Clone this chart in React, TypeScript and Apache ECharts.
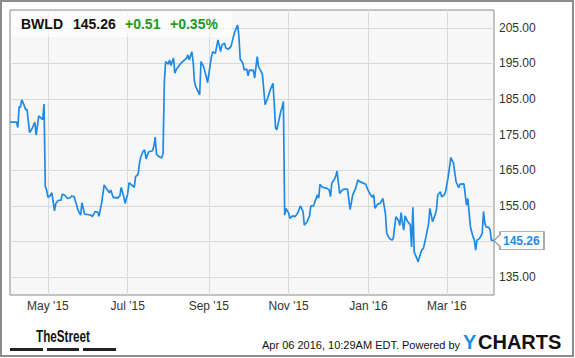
import React, { useEffect, useRef } from 'react';
import * as echarts from 'echarts';

const ticker = 'BWLD';
const lastPriceText = '145.26';
const changeText = '+0.51';
const changePctText = '+0.35%';
const stampText = 'Apr 06 2016, 10:29AM EDT. Powered by';

const dates = [
  '2015-04-02','2015-04-07','2015-04-08','2015-04-09','2015-04-10','2015-04-11','2015-04-12','2015-04-14','2015-04-15','2015-04-17',
  '2015-04-19','2015-04-21','2015-04-22','2015-04-24','2015-04-26','2015-04-27','2015-04-28','2015-04-29','2015-04-30','2015-05-01',
  '2015-05-03','2015-05-04','2015-05-06','2015-05-07','2015-05-09','2015-05-11','2015-05-12','2015-05-14','2015-05-16','2015-05-18',
  '2015-05-19','2015-05-21','2015-05-23','2015-05-24','2015-05-26','2015-05-27','2015-05-29','2015-05-31','2015-06-03','2015-06-04',
  '2015-06-06','2015-06-08','2015-06-09','2015-06-11','2015-06-13','2015-06-15','2015-06-17','2015-06-18','2015-06-20','2015-06-22',
  '2015-06-23','2015-06-25','2015-06-26','2015-06-28','2015-06-29','2015-07-01','2015-07-02','2015-07-04','2015-07-06','2015-07-07',
  '2015-07-09','2015-07-10','2015-07-11','2015-07-13','2015-07-14','2015-07-15','2015-07-17','2015-07-20','2015-07-21','2015-07-22',
  '2015-07-23','2015-07-25','2015-07-27','2015-07-28','2015-07-29','2015-07-30','2015-08-01','2015-08-02','2015-08-03','2015-08-05',
  '2015-08-06','2015-08-07','2015-08-10','2015-08-12','2015-08-15','2015-08-16','2015-08-17','2015-08-19','2015-08-20','2015-08-21',
  '2015-08-22','2015-08-25','2015-08-26','2015-08-28','2015-08-30','2015-08-31','2015-09-03','2015-09-04','2015-09-06','2015-09-08',
  '2015-09-10','2015-09-11','2015-09-13','2015-09-14','2015-09-16','2015-09-18','2015-09-20','2015-09-21','2015-09-23','2015-09-24',
  '2015-09-25','2015-09-27','2015-09-28','2015-09-30','2015-10-01','2015-10-02','2015-10-04','2015-10-05','2015-10-06','2015-10-08',
  '2015-10-09','2015-10-11','2015-10-12','2015-10-14','2015-10-16','2015-10-18','2015-10-20','2015-10-21','2015-10-22','2015-10-23',
  '2015-10-24','2015-10-26','2015-10-27','2015-10-28','2015-10-29','2015-10-30','2015-11-01','2015-11-02','2015-11-04','2015-11-06',
  '2015-11-08','2015-11-10','2015-11-12','2015-11-13','2015-11-15','2015-11-17','2015-11-18','2015-11-20','2015-11-23','2015-11-24',
  '2015-11-25','2015-11-27','2015-11-30','2015-12-02','2015-12-03','2015-12-04','2015-12-06','2015-12-07','2015-12-08','2015-12-10',
  '2015-12-12','2015-12-14','2015-12-16','2015-12-18','2015-12-20','2015-12-22','2015-12-24','2015-12-25','2015-12-28','2015-12-30',
  '2015-12-31','2016-01-02','2016-01-04','2016-01-05','2016-01-06','2016-01-08','2016-01-10','2016-01-12','2016-01-14','2016-01-15',
  '2016-01-17','2016-01-19','2016-01-20','2016-01-22','2016-01-24','2016-01-25','2016-01-26','2016-01-27','2016-01-28','2016-01-29',
  '2016-01-31','2016-02-02','2016-02-03','2016-02-04','2016-02-05','2016-02-07','2016-02-08','2016-02-09','2016-02-11','2016-02-12',
  '2016-02-14','2016-02-16','2016-02-17','2016-02-19','2016-02-21','2016-02-22','2016-02-23','2016-02-24','2016-02-25','2016-02-26',
  '2016-02-28','2016-02-29','2016-03-02','2016-03-04','2016-03-06','2016-03-08','2016-03-10','2016-03-11','2016-03-14','2016-03-16',
  '2016-03-17','2016-03-19','2016-03-21','2016-03-22','2016-03-23','2016-03-24','2016-03-26','2016-03-28','2016-03-29','2016-03-30',
  '2016-03-31','2016-04-02','2016-04-03','2016-04-04','2016-04-06'
];

const prices = [
  178.5,178.5,177.0,182.9,182.7,184.8,184.0,182.0,182.1,175.6,
  176.8,178.5,174.9,180.3,179.6,179.2,183.6,160.4,159.5,157.4,
  158.0,158.7,153.6,155.7,156.6,156.6,158.3,158.0,157.1,157.3,
  157.8,157.6,155.2,153.8,152.4,155.9,152.7,152.6,152.4,152.0,
  153.4,153.3,152.1,155.7,160.9,159.7,158.7,159.5,157.3,157.4,
  157.1,157.8,160.2,157.6,155.7,158.5,161.5,160.9,160.2,163.2,
  163.9,167.0,168.8,170.5,170.7,168.2,170.2,170.5,171.8,174.3,
  169.5,168.8,168.5,169.7,189.9,195.5,194.8,196.0,194.4,196.5,
  192.3,193.2,194.8,195.5,196.5,197.4,196.0,198.3,195.5,189.9,
  188.5,186.2,195.5,194.1,191.3,189.6,196.9,198.3,197.8,201.6,
  198.3,200.2,200.7,199.3,199.0,199.8,202.8,204.0,205.8,202.6,
  196.2,195.1,193.2,193.4,191.5,193.2,193.0,193.2,190.9,196.9,
  194.1,192.7,191.8,183.4,185.3,187.6,189.4,184.0,176.8,176.4,
  178.1,181.5,182.7,184.3,152.4,154.3,153.0,151.5,152.2,152.0,
  153.1,155.0,153.4,149.6,150.5,152.2,155.0,155.0,158.1,157.2,
  161.1,160.2,160.0,159.5,157.6,161.4,162.5,163.3,164.8,158.5,
  159.5,159.7,159.7,154.0,158.1,159.7,162.3,161.9,161.4,161.1,
  160.0,158.5,157.4,158.2,154.3,155.5,155.7,157.1,152.9,147.3,
  145.9,145.4,145.9,152.0,150.9,149.5,153.1,150.3,148.2,152.2,
  150.6,149.7,143.5,154.6,142.1,140.3,139.3,140.7,142.8,143.0,
  146.3,150.1,154.3,150.6,152.5,153.9,158.1,158.5,159.0,157.6,
  158.1,159.0,163.2,168.6,167.0,161.8,160.1,161.1,161.2,155.2,
  157.1,149.1,146.3,145.4,142.6,145.4,145.9,147.3,153.4,150.2,
  149.1,149.0,148.3,145.4,145.26
];

const xTickDates = ['2015-05-01', '2015-07-01', '2015-09-01', '2015-11-01', '2016-01-01', '2016-03-01'];
const yTickValues = [135, 145, 155, 165, 175, 185, 195, 205];
const monthNames = ['Jan', 'Feb', 'Mar', 'Apr', 'May', 'Jun', 'Jul', 'Aug', 'Sep', 'Oct', 'Nov', 'Dec'];
const axisStart = '2015-04-02';
const axisEnd = '2016-04-06';

function toTs(s: string): number {
  const [y, m, d] = s.split('-').map(Number);
  return new Date(y, m - 1, d).getTime();
}

const FONT = "'Liberation Sans', Arial, sans-serif";
const BLUE = '#1f8ae6';

export default function App() {
  const ref = useRef<HTMLDivElement>(null);
  useEffect(() => {
    const chart = echarts.init(ref.current!, null, { renderer: 'svg' });
    const data = dates.map((d, i) => [toTs(d), prices[i]]);
    const last = data[data.length - 1];
    const xTicks = xTickDates.map(toTs);
    chart.setOption({
      animation: false,
      backgroundColor: '#fff',
      grid: {
        left: 10, top: 10, right: 81, bottom: 63,
        show: true, backgroundColor: '#f7f7f7', borderColor: '#8a8a8a', borderWidth: 1,
        outerBoundsMode: 'none',
      },
      xAxis: {
        type: 'value',
        min: toTs(axisStart),
        max: toTs(axisEnd),
        axisLine: { show: false },
        axisTick: { show: false, customValues: xTicks },
        axisLabel: {
          customValues: xTicks,
          color: '#333', fontSize: 12, fontFamily: FONT, margin: 5,
          formatter: (v: number) => {
            const d = new Date(v);
            return monthNames[d.getMonth()] + " '" + String(d.getFullYear()).slice(2);
          },
        },
        splitLine: { show: true, lineStyle: { color: '#d9d9d9', width: 1 } },
      },
      yAxis: {
        type: 'value',
        position: 'right',
        min: 130,
        max: 210,
        axisLine: { show: false },
        axisTick: { show: false, customValues: yTickValues },
        axisLabel: {
          customValues: yTickValues,
          color: '#333', fontSize: 12, fontFamily: FONT, margin: 5,
          formatter: (v: number) => v.toFixed(2),
        },
        splitLine: { show: true, lineStyle: { color: '#d9d9d9', width: 1 } },
      },
      series: [
        {
          type: 'line',
          data,
          showSymbol: false,
          symbol: 'none',
          lineStyle: { color: BLUE, width: 1.7 },
          endLabel: {
            show: true,
            distance: 9,
            color: BLUE, fontWeight: 'bold', fontSize: 12, fontFamily: FONT,
            formatter: () => lastPriceText,
          },
          markPoint: {
            silent: true,
            symbol: 'path://M0,9L6,3L6,0L50,0L50,18L6,18L6,15Z',
            symbolSize: [50, 18],
            symbolOffset: [25, 0],
            itemStyle: { color: '#fff', borderColor: '#9a9a9a', borderWidth: 1 },
            label: { show: false },
            z: 1,
            data: [{ coord: last, value: last[1] }],
          },
        },
      ],
      graphic: [
        {
          type: 'rect', z: 100,
          shape: { x: 1, y: 1, width: 572, height: 355 },
          style: { fill: 'none', stroke: '#8c8c8c', lineWidth: 2 },
        },
        {
          type: 'rect', z: 100,
          shape: { x: 11, y: 11, width: 221, height: 26 },
          style: { fill: 'rgba(255,255,255,0.65)' },
        },
        { type: 'text', z: 101, x: 21, y: 24, style: { text: ticker, fill: '#111', font: `bold 14px ${FONT}`, verticalAlign: 'middle' } },
        { type: 'text', z: 101, x: 73, y: 24, style: { text: lastPriceText, fill: '#111', font: `bold 14px ${FONT}`, verticalAlign: 'middle' } },
        { type: 'text', z: 101, x: 125, y: 24, style: { text: changeText, fill: '#1a9a1a', font: `bold 14px ${FONT}`, verticalAlign: 'middle' } },
        { type: 'text', z: 101, x: 170, y: 24, style: { text: changePctText, fill: '#1a9a1a', font: `bold 14px ${FONT}`, verticalAlign: 'middle' } },
        {
          type: 'text', z: 101, x: 36, y: 336, scaleX: 0.73,
          style: { text: 'TheStreet', fill: '#111', font: `bold 16px ${FONT}`, verticalAlign: 'middle' },
        },
        { type: 'rect', z: 101, shape: { x: 10, y: 348, width: 33, height: 3 }, style: { fill: '#222' } },
        { type: 'rect', z: 101, shape: { x: 47, y: 348, width: 32, height: 3 }, style: { fill: '#222' } },
        { type: 'rect', z: 101, shape: { x: 83, y: 348, width: 33, height: 3 }, style: { fill: '#222' } },
        { type: 'text', z: 101, x: 262, y: 344.5, style: { text: stampText, fill: '#111', font: `11px ${FONT}`, verticalAlign: 'middle' } },
        { type: 'text', z: 101, x: 463, y: 342, style: { text: 'Y', fill: '#1c8fe3', font: `bold 20px ${FONT}`, verticalAlign: 'middle' } },
        { type: 'text', z: 101, x: 478, y: 342, style: { text: 'CHARTS', fill: '#111', font: `bold 20px ${FONT}`, verticalAlign: 'middle' } },
      ],
    });
    return () => chart.dispose();
  }, []);
  return (
    <div
      ref={ref}
      style={{ position: 'fixed', left: 0, top: 0, width: 575, height: 358, background: '#fff' }}
    />
  );
}
